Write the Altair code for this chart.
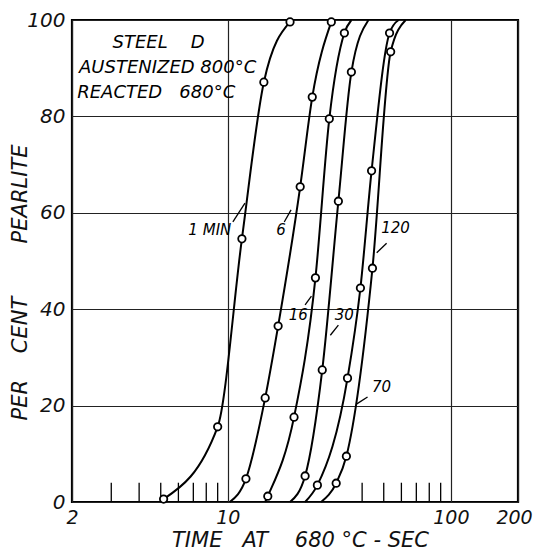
import altair as alt
import pandas as pd

NB = "\u00a0"

# ---- data ----
series_names = ["1 MIN", "6", "16", "30", "70", "120"]

# curve paths (time in s, per cent pearlite) including start/end of the drawn curve
path_t = {
    "1 MIN": [5.15, 9.0, 11.56, 14.5, 19.0],
    "6":     [10.2, 12.05, 14.7, 16.8, 21.1, 23.9, 29.1],
    "16":    [14.7, 15.1, 19.8, 24.7, 28.5, 33.3, 35.8],
    "30":    [19.0, 22.2, 26.5, 31.3, 35.8, 42.7],
    "70":    [22.2, 25.2, 34.4, 39.3, 44.1, 53.1, 58.3],
    "120":   [26.2, 30.6, 34.0, 44.5, 53.7, 62.7],
}
path_p = {
    "1 MIN": [0.6, 15.6, 54.6, 87.1, 99.6],
    "6":     [0.0, 4.8, 21.6, 36.5, 65.4, 84.0, 99.6],
    "16":    [0.0, 1.2, 17.6, 46.5, 79.5, 97.3, 100.0],
    "30":    [0.0, 5.4, 27.4, 62.4, 89.2, 100.0],
    "70":    [0.0, 3.5, 25.7, 44.4, 68.7, 97.3, 100.0],
    "120":   [0.0, 3.9, 9.5, 48.5, 93.4, 100.0],
}
# which path points carry an open-circle marker
marked = {
    "1 MIN": [1, 1, 1, 1, 1],
    "6":     [0, 1, 1, 1, 1, 1, 1],
    "16":    [0, 1, 1, 1, 1, 1, 0],
    "30":    [0, 1, 1, 1, 1, 0],
    "70":    [0, 1, 1, 1, 1, 1, 0],
    "120":   [0, 1, 1, 1, 1, 0],
}

x_tick_values = [2, 10, 100, 200]
y_tick_values = [0, 20, 40, 60, 80, 100]
minor_ticks = [3, 4, 5, 6, 7, 8, 9, 40, 50, 60, 70, 80, 90]

label_text = ["1 MIN", "6", "16", "30", "70", "120"]
label_t = [8.3, 17.3, 20.7, 33.3, 48.9, 56.5]
label_p = [56.4, 56.4, 38.8, 38.8, 23.9, 56.8]

leader_t = [10.53, 17.9, 22.2, 31.3, 42.3, 51.5]
leader_p = [58.1, 58.1, 40.9, 36.7, 21.8, 53.7]
leader_t2 = [11.93, 19.2, 23.7, 28.8, 37.7, 46.5]
leader_p2 = [62.0, 60.6, 42.7, 34.6, 20.3, 51.7]

note_text = ["STEEL" + NB * 4 + "D", "AUSTENIZED" + NB + "800°C", "REACTED" + NB * 3 + "680°C"]
note_t = [3.04, 2.15, 2.11]
note_p = [95.2, 90.0, 84.9]

x_title = "TIME" + NB * 3 + "AT" + NB * 4 + "680" + NB + "°C" + NB + "-" + NB + "SEC"
y_title = "PER" + NB * 4 + "CENT" + NB * 8 + "PEARLITE"

# ---- tables ----
rows = []
for s in series_names:
    for i, (t, p) in enumerate(zip(path_t[s], path_p[s])):
        rows.append({"series": s, "order": i, "t": t, "p": p, "m": marked[s][i]})
df = pd.DataFrame(rows)
df_pts = df[df.m == 1]
df_minor = pd.DataFrame({"t": minor_ticks, "p0": 0.0, "p1": 4.0})
df_lab = pd.DataFrame({"text": label_text, "t": label_t, "p": label_p})
df_lead = pd.DataFrame({"t": leader_t, "p": leader_p, "t2": leader_t2, "p2": leader_p2})
df_note = pd.DataFrame({"text": note_text, "t": note_t, "p": note_p})

FONT = "DejaVu Sans"

xscale = alt.Scale(type="log", domain=[2, 200], nice=False)
yscale = alt.Scale(domain=[0, 100], nice=False)

xax = alt.Axis(values=x_tick_values, grid=True, ticks=False, domain=False,
               labelFontSize=19, labelFont=FONT, labelFontStyle="italic",
               labelPadding=6, labelColor="#111", gridColor="#222", gridWidth=1.2,
               labelFlush=False, labelOverlap=False, format="d",
               labelOffset={"condition": {"test": "datum.value == 200", "value": -4}, "value": 0},
               title=x_title, titleFontSize=21, titleFont=FONT,
               titleFontStyle="italic", titleFontWeight="normal",
               titleX=228, titleY=48, titleBaseline="bottom",
               titleColor="#111")
yax = alt.Axis(values=y_tick_values, grid=True, ticks=False, domain=False,
               labelFontSize=20, labelFont=FONT, labelFontStyle="italic",
               labelPadding=7, labelColor="#111", gridColor="#222", gridWidth=1.2,
               labelFlush=False,
               title=y_title, titleFontSize=21, titleFont=FONT,
               titleFontStyle="italic", titleFontWeight="normal",
               titleX=-42, titleY=262,
               titleColor="#111")

base_x = alt.X("t:Q", scale=xscale, axis=xax)
base_y = alt.Y("p:Q", scale=yscale, axis=yax)

lines = alt.Chart(df).mark_line(interpolate="monotone", color="black", strokeWidth=2).encode(
    x=base_x, y=base_y, detail="series:N", order="order:Q")

points = alt.Chart(df_pts).mark_point(shape="circle", filled=True, fill="white",
                                     stroke="black", strokeWidth=1.8, size=55, opacity=1).encode(
    x=alt.X("t:Q", scale=xscale), y=alt.Y("p:Q", scale=yscale))

minor = alt.Chart(df_minor).mark_rule(color="black", strokeWidth=1.3).encode(
    x=alt.X("t:Q", scale=xscale), y=alt.Y("p0:Q", scale=yscale), y2="p1:Q")

leaders = alt.Chart(df_lead).mark_rule(color="black", strokeWidth=1.3).encode(
    x=alt.X("t:Q", scale=xscale), y=alt.Y("p:Q", scale=yscale), x2="t2:Q", y2="p2:Q")

labels = alt.Chart(df_lab).mark_text(font=FONT, fontStyle="italic", fontSize=15,
                                     color="black", align="center", baseline="middle").encode(
    x=alt.X("t:Q", scale=xscale), y=alt.Y("p:Q", scale=yscale), text="text:N")

notes = alt.Chart(df_note).mark_text(font=FONT, fontStyle="italic", fontSize=18,
                                     color="black", align="left", baseline="middle").encode(
    x=alt.X("t:Q", scale=xscale), y=alt.Y("p:Q", scale=yscale), text="text:N")

chart = alt.layer(minor, lines, leaders, points, labels, notes).properties(
    width=446, height=482,
    autosize=alt.AutoSizeParams(type="none"),
    padding={"left": 64, "top": 12, "right": 15, "bottom": 49},
    background="white",
).configure_view(stroke="black", strokeWidth=2.2)

chart.save("out.html", embed_options={"renderer": "svg", "actions": False})
